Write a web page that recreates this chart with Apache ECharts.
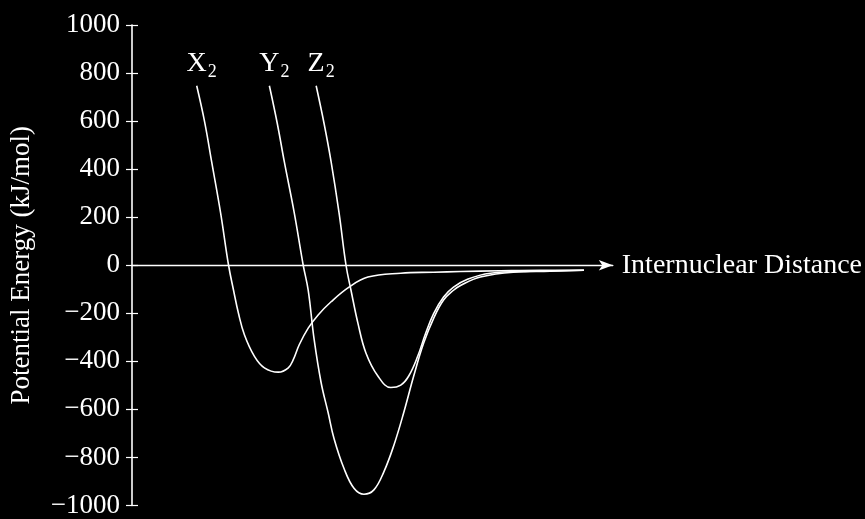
<!DOCTYPE html>
<html>
<head>
<meta charset="utf-8">
<script src="https://cdn.jsdelivr.net/npm/echarts@6/dist/echarts.min.js"></script>
<style>
  html, body { margin: 0; padding: 0; background: #000; }
  #chart { width: 865px; height: 519px; }
</style>
</head>
<body>
<div id="chart"></div>
<script>
// curve data, distance in arbitrary units (axis has no labels)
var x2Dist   = [65, 73, 80, 89, 97, 102, 107, 113, 123, 133, 147, 157, 162, 168, 177, 187, 200, 218, 237, 270, 303, 330, 370, 410, 454];
var x2Energy = [747, 596, 431, 218, 0, -104, -201, -290, -379, -427, -445, -427, -393, -331, -262, -207, -152, -91, -49, -33, -29, -26, -23, -21, -21];

var y2Dist   = [138, 146, 153, 163, 172, 177, 183, 190, 197, 203, 213, 223, 233, 243, 253, 263, 273, 283, 293, 303, 313, 323, 330, 350, 383, 420, 454];
var y2Energy = [747, 589, 431, 218, 0, -104, -310, -489, -613, -722, -846, -928, -953, -935, -860, -750, -613, -461, -324, -221, -145, -104, -84, -49, -29, -25, -21];

var z2Dist   = [185, 193, 200, 208, 215, 220, 227, 235, 247, 260, 270, 278, 287, 295, 303, 313, 323, 337, 360, 400, 454];
var z2Energy = [747, 589, 431, 218, 0, -104, -242, -365, -461, -509, -499, -461, -379, -283, -201, -132, -91, -58, -33, -25, -21];

var curveNames = ['X', 'Y', 'Z'];
var yMin = -1000, yMax = 1000, yStep = 200;

var font = 'Liberation Serif';

function pairs(xs, ys) {
    var out = [];
    for (var i = 0; i < xs.length; i++) {
        out.push([xs[i], ys[i]]);
    }
    return out;
}

function curve(letter, xs, ys, yIdx) {
    return {
        type: 'line',
        yAxisIndex: yIdx,
        smooth: 0.4,
        showSymbol: false,
        silent: true,
        lineStyle: { color: '#fff', width: 1.6 },
        data: pairs(xs, ys),
        markPoint: {
            symbol: 'circle',
            symbolSize: 0,
            silent: true,
            data: [{ coord: [xs[0], ys[0]] }],
            label: {
                show: true,
                position: 'top',
                distance: 5,
                offset: [5, 0],
                formatter: '{m|' + letter + '}{s|2}',
                rich: {
                    m: { fontFamily: font, fontSize: 28, color: '#fff' },
                    s: { fontFamily: font, fontSize: 18, color: '#fff', padding: [16, 0, 0, 1] }
                }
            }
        }
    };
}

var myChart = echarts.init(document.getElementById('chart'));
var labelFmt = function (v) { return String(v).replace('-', '\u2212'); };

var option = {
    backgroundColor: '#000',
    animation: false,
    grid: { left: 130, right: 252, top: 25, bottom: 8.5 },
    xAxis: {
        type: 'value',
        min: 0,
        max: 483,
        name: 'Internuclear Distance',
        nameLocation: 'end',
        nameGap: 9,
        nameTextStyle: { color: '#fff', fontFamily: font, fontSize: 28 },
        axisLine: {
            onZero: true,
            symbol: ['none', 'arrow'],
            symbolSize: [8, 14],
            lineStyle: { color: '#fff', width: 1.4 }
        },
        axisTick: { show: false },
        axisLabel: { show: false },
        splitLine: { show: false }
    },
    yAxis: [{
        type: 'value',
        min: yMin,
        max: yMax,
        interval: yStep,
        name: 'Potential Energy (kJ/mol)',
        nameLocation: 'middle',
        nameRotate: 90,
        nameGap: 97,
        nameTextStyle: { color: '#fff', fontFamily: font, fontSize: 27 },
        axisLine: { show: true, lineStyle: { color: '#fff', width: 1.6 } },
        axisTick: { show: false },
        axisLabel: { color: '#fff', fontFamily: font, fontSize: 27, margin: 12, formatter: labelFmt },
        splitLine: { show: false }
    }, {
        // ticks crossing the axis line: same scale, shifted right, longer ticks
        type: 'value',
        position: 'left',
        offset: -6,
        min: yMin,
        max: yMax,
        interval: yStep,
        axisLine: { show: false, onZero: false },
        axisTick: { show: true, length: 12, lineStyle: { color: '#fff', width: 1.2 } },
        axisLabel: { show: false },
        splitLine: { show: false }
    }],
    series: [
        curve(curveNames[0], x2Dist, x2Energy, 0),
        curve(curveNames[1], y2Dist, y2Energy, 0),
        curve(curveNames[2], z2Dist, z2Energy, 1)
    ]
};

myChart.setOption(option);
</script>
</body>
</html>
